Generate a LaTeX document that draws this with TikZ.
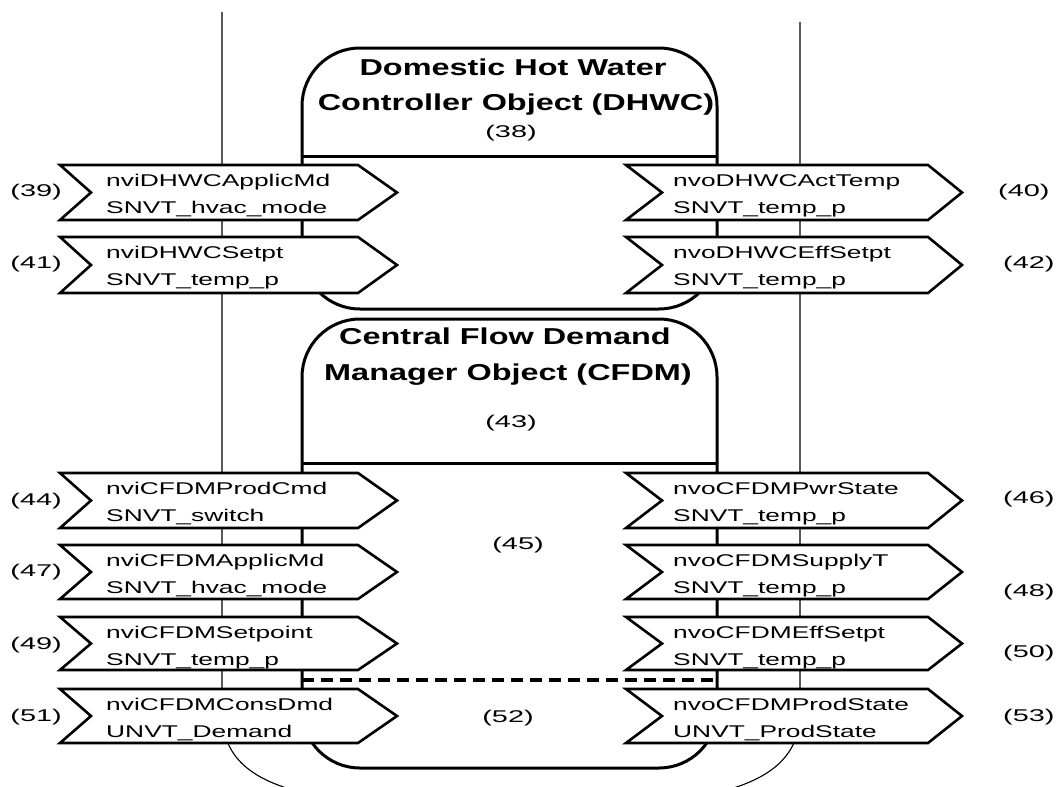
\documentclass[tikz,border=0pt]{standalone}
\usepackage{fontspec}
\setmainfont{Liberation Sans}
\newcommand\sx[1]{\scalebox{1.55}[1]{#1}}
\newcommand\nx[1]{\scalebox{1.7}[1]{#1}}
\newcommand\bx[1]{\scalebox{1.41}[1]{#1}}
\newcommand\chevL[5]{%
  \draw[chev] (60,#1) -- (358,#1) -- (397,{(#1+#2)/2}) -- (358,#2) -- (60,#2) -- (91,{(#1+#2)/2}) -- cycle;
  \node[txt, anchor=base west] (#3a) at (106,#1+21) {\sx{#4}};
  \node[txt, anchor=base west] (#3b) at (106,#1+48) {\sx{#5}};
}
\newcommand\chevR[5]{%
  \draw[chev] (626,#1) -- (928,#1) -- (962,{(#1+#2)/2}) -- (928,#2) -- (626,#2) -- (662,{(#1+#2)/2}) -- cycle;
  \node[txt, anchor=base west] (#3a) at (673,#1+21) {\sx{#4}};
  \node[txt, anchor=base west] (#3b) at (673,#1+48) {\sx{#5}};
}
\begin{document}
\begin{tikzpicture}[x=1pt,y=-1pt,
  guide/.style={line width=1.1pt},
  objbox/.style={line width=3pt, rounded corners=58pt},
  divider/.style={line width=3pt},
  dashline/.style={line width=3.6pt, dash pattern=on 12pt off 7pt},
  chev/.style={line width=2.6pt, fill=white, line join=miter},
  txt/.style={inner sep=0pt, font=\fontsize{17}{20}\selectfont},
  ttl/.style={inner sep=0pt, font=\fontsize{23}{27}\selectfont\bfseries},
  num/.style={inner sep=0pt, font=\fontsize{17}{20}\selectfont}]
\useasboundingbox (0,0) rectangle (1063,787);

% thin guide lines
\draw[guide] (222,12) -- (222,712) .. controls (222,760) and (255,780) .. (300,792);
\draw[guide] (800,22) -- (800,712) .. controls (800,760) and (765,780) .. (720,792);

% DHWC object
\draw[objbox] (302,200) -- (302,48) -- (717,48) -- (717,309) -- (302,309) -- cycle;
\draw[divider] (302,156) -- (717,156);
\node[ttl, anchor=base] (t1a) at (513,75) {\bx{Domestic Hot Water}};
\node[ttl, anchor=base] (t1b) at (516,110) {\bx{Controller Object (DHWC)}};
\node[num] (n38) at (511,133) {\nx{(38)}};

% CFDM object
\draw[objbox] (302,500) -- (302,319) -- (717,319) -- (717,768) -- (302,768) -- cycle;
\draw[divider] (302,463) -- (717,463);
\draw[dashline] (302,680) -- (717,680);
\node[ttl, anchor=base] (t2a) at (505,344) {\bx{Central Flow Demand}};
\node[ttl, anchor=base] (t2b) at (508,380) {\bx{Manager Object (CFDM)}};
\node[num] (n43) at (511,423) {\nx{(43)}};
\node[num] (n45) at (518,545) {\nx{(45)}};
\node[num] (n52) at (508,718) {\nx{(52)}};

% left chevrons
\chevL{165}{220}{c39}{nviDHWCApplicMd}{SNVT\_hvac\_mode}
\chevL{237}{293}{c41}{nviDHWCSetpt}{SNVT\_temp\_p}
\chevL{473}{528}{c44}{nviCFDMProdCmd}{SNVT\_switch}
\chevL{545}{599}{c47}{nviCFDMApplicMd}{SNVT\_hvac\_mode}
\chevL{617}{670}{c49}{nviCFDMSetpoint}{SNVT\_temp\_p}
\chevL{689}{743}{c51}{nviCFDMConsDmd}{UNVT\_Demand}

% right chevrons
\chevR{165}{220}{c40}{nvoDHWCActTemp}{SNVT\_temp\_p}
\chevR{237}{293}{c42}{nvoDHWCEffSetpt}{SNVT\_temp\_p}
\chevR{473}{528}{c46}{nvoCFDMPwrState}{SNVT\_temp\_p}
\chevR{545}{599}{c48}{nvoCFDMSupplyT}{SNVT\_temp\_p}
\chevR{617}{670}{c50}{nvoCFDMEffSetpt}{SNVT\_temp\_p}
\chevR{689}{743}{c53}{nvoCFDMProdState}{UNVT\_ProdState}

% number labels
\node[num, anchor=east] (n39) at (62,192) {\nx{(39)}};
\node[num, anchor=east] (n41) at (62,264) {\nx{(41)}};
\node[num, anchor=east] (n44) at (62,501) {\nx{(44)}};
\node[num, anchor=east] (n47) at (62,572) {\nx{(47)}};
\node[num, anchor=east] (n49) at (62,645) {\nx{(49)}};
\node[num, anchor=east] (n51) at (62,717) {\nx{(51)}};
\node[num, anchor=west] (n40) at (998,192) {\nx{(40)}};
\node[num, anchor=west] (n42) at (1003,264) {\nx{(42)}};
\node[num, anchor=west] (n46) at (1003,499) {\nx{(46)}};
\node[num, anchor=west] (n48) at (1003,592) {\nx{(48)}};
\node[num, anchor=west] (n50) at (1003,653) {\nx{(50)}};
\node[num, anchor=west] (n53) at (1003,717) {\nx{(53)}};
\end{tikzpicture}
\end{document}
